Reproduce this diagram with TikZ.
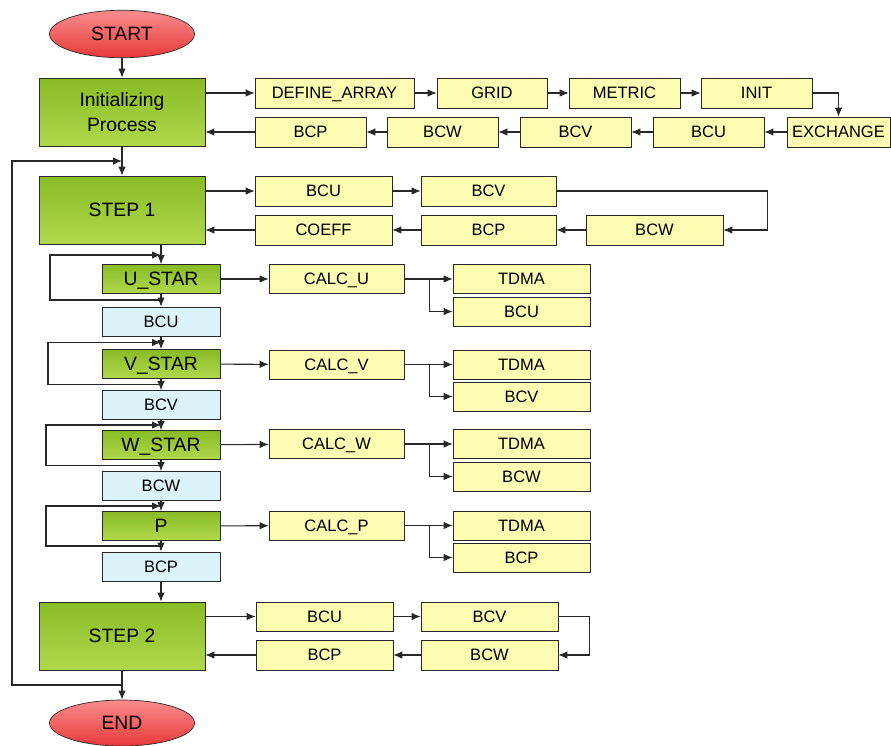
\documentclass[tikz,border=0pt]{standalone}
\usepackage{fontspec}
\setmainfont{Liberation Sans}
\usepackage{xcolor}
\usetikzlibrary{
    arrows.meta,
    positioning,
    shapes.geometric
}
\definecolor{LineGray}{RGB}{40,40,40}
\definecolor{GreenTop}{RGB}{136,188,38}
\definecolor{GreenBot}{RGB}{176,216,76}
\definecolor{SoftYellow}{RGB}{251,251,178}
\definecolor{SoftCyan}{RGB}{218,244,250}
\definecolor{RedTop}{RGB}{250,140,140}
\definecolor{RedBot}{RGB}{232,58,58}
\tikzset{
  mainblock/.style = {draw=LineGray, top color=GreenTop, bottom color=GreenBot,
                      minimum width=3.32cm, minimum height=1.36cm, inner sep=0pt,
                      align=center, font=\fontsize{11}{14}\selectfont},
  starblock/.style = {draw=LineGray, top color=GreenTop, bottom color=GreenBot,
                      minimum width=2.36cm, minimum height=0.58cm, inner sep=0pt,
                      text depth=0pt, font=\fontsize{11}{13}\selectfont},
  bcblock/.style   = {draw=LineGray, fill=SoftCyan, minimum width=2.36cm,
                      minimum height=0.58cm, inner sep=0pt,
                      font=\fontsize{9.4}{11}\selectfont},
  subblock/.style  = {draw=LineGray, fill=SoftYellow, minimum width=2.22cm,
                      minimum height=0.60cm, inner sep=0pt, text depth=0pt,
                      font=\fontsize{9.4}{11}\selectfont},
  term/.style      = {ellipse, draw=LineGray, top color=RedTop, bottom color=RedBot,
                      minimum width=2.9cm, minimum height=0.95cm, inner sep=0pt,
                      font=\fontsize{11}{13}\selectfont},
  arr/.style       = {-{Latex[length=1.8mm,width=1.5mm]}, LineGray, line width=0.6pt}
}

\begin{document}
\begin{tikzpicture}[x=0.02cm, y=-0.02cm]
\useasboundingbox (0,0) rectangle (891,745);
% main column
\node[term] (start) at (122,34) {START};
\node[mainblock] (init) at (122,112) {Initializing\\Process};
\node[mainblock] (step1) at (122,210) {STEP 1};
\node[starblock] (ustar) at (161,279) {U\_STAR};
\node[bcblock] (bcuS) at (161,321.5) {BCU};
\node[starblock] (vstar) at (161,364) {V\_STAR};
\node[bcblock] (bcvS) at (161,405) {BCV};
\node[starblock] (wstar) at (161,445) {W\_STAR};
\node[bcblock] (bcwS) at (161,486) {BCW};
\node[starblock] (pstar) at (161,526) {P};
\node[bcblock] (bcpS) at (161,566.5) {BCP};
\node[mainblock] (step2) at (122,636) {STEP 2};
\node[term, minimum height=0.92cm] (end) at (122,723) {END};

% initializing rows
\node[subblock, minimum width=3.18cm] (da) at (334.5,93) {DEFINE\_ARRAY};
\node[subblock, minimum width=2.2cm] (grid) at (492,93) {GRID};
\node[subblock] (metric) at (624.5,93) {METRIC};
\node[subblock] (initsub) at (756.5,93) {INIT};
\node[subblock, minimum width=2.06cm] (exch) at (838.5,132) {EXCHANGE};
\node[subblock] (ibcu) at (708.5,132) {BCU};
\node[subblock] (ibcv) at (575.5,132) {BCV};
\node[subblock] (ibcw) at (442.5,132) {BCW};
\node[subblock] (ibcp) at (310.5,132) {BCP};

% step 1 rows
\node[subblock, minimum width=2.74cm] (sbcu) at (323.5,191) {BCU};
\node[subblock, minimum width=2.7cm] (sbcv) at (488.5,191) {BCV};
\node[subblock, minimum width=2.74cm] (sbcw) at (654.5,230) {BCW};
\node[subblock, minimum width=2.7cm] (sbcp) at (488.5,230) {BCP};
\node[subblock, minimum width=2.74cm] (scoeff) at (323.5,230) {COEFF};

% predictor rows
\node[subblock, minimum width=2.7cm, minimum height=0.58cm] (calcu) at (336.5,279) {CALC\_U};
\node[subblock, minimum width=2.74cm, minimum height=0.58cm] (utdma) at (521.5,279) {TDMA};
\node[subblock, minimum width=2.74cm, minimum height=0.58cm] (ubc) at (521.5,311.5) {BCU};
\node[subblock, minimum width=2.7cm, minimum height=0.58cm] (calcv) at (336.5,364.5) {CALC\_V};
\node[subblock, minimum width=2.74cm, minimum height=0.58cm] (vtdma) at (521.5,364.5) {TDMA};
\node[subblock, minimum width=2.74cm, minimum height=0.58cm] (vbc) at (521.5,396.5) {BCV};
\node[subblock, minimum width=2.7cm, minimum height=0.58cm] (calcw) at (336.5,444) {CALC\_W};
\node[subblock, minimum width=2.74cm, minimum height=0.58cm] (wtdma) at (521.5,444) {TDMA};
\node[subblock, minimum width=2.74cm, minimum height=0.58cm] (wbc) at (521.5,476.5) {BCW};
\node[subblock, minimum width=2.7cm, minimum height=0.58cm] (calcp) at (336.5,525.5) {CALC\_P};
\node[subblock, minimum width=2.74cm, minimum height=0.58cm] (ptdma) at (521.5,525.5) {TDMA};
\node[subblock, minimum width=2.74cm, minimum height=0.58cm] (pbc) at (521.5,557.5) {BCP};

% step 2 rows
\node[subblock, minimum width=2.74cm, minimum height=0.58cm] (tbcu) at (324.5,616.5) {BCU};
\node[subblock, minimum width=2.74cm, minimum height=0.58cm] (tbcv) at (489.5,616.5) {BCV};
\node[subblock, minimum width=2.74cm] (tbcw) at (489.5,655) {BCW};
\node[subblock, minimum width=2.74cm] (tbcp) at (324.5,655) {BCP};

% loop points
\coordinate (bigin) at (122,161);
\coordinate (bigout) at (122,685);
\coordinate (uin) at (161,255);
\coordinate (uout) at (161,300);
\coordinate (vin) at (161,342.5);
\coordinate (vout) at (161,384.5);
\coordinate (win) at (161,425);
\coordinate (wout) at (161,465.5);
\coordinate (pin) at (161,506);
\coordinate (pout) at (161,546);

% main column arrows
\draw[arr] (start) -- (init);
\draw[arr] (init) -- (step1);
\draw[arr] (step1.south -| ustar) -- (ustar);
\draw[arr] (ustar) -- (bcuS);
\draw[arr] (bcuS) -- (vstar);
\draw[arr] (vstar) -- (bcvS);
\draw[arr] (bcvS) -- (wstar);
\draw[arr] (wstar) -- (bcwS);
\draw[arr] (bcwS) -- (pstar);
\draw[arr] (pstar) -- (bcpS);
\draw[arr] (bcpS) -- (step2.north -| bcpS);
\draw[arr] (step2) -- (end);
\draw[arr] (bigout) -- ++(-110,0) |- (bigin);
\draw[arr] (uout) -- ++(-111,0) |- (uin);
\draw[arr] (vout) -- ++(-113,0) |- (vin);
\draw[arr] (wout) -- ++(-115,0) |- (win);
\draw[arr] (pout) -- ++(-115,0) |- (pin);

% initializing
\draw[arr] (init.east |- da) -- (da);
\draw[arr] (da) -- (grid);
\draw[arr] (grid) -- (metric);
\draw[arr] (metric) -- (initsub);
\draw[arr] (initsub.east) -| (exch.north);
\draw[arr] (exch) -- (ibcu);
\draw[arr] (ibcu) -- (ibcv);
\draw[arr] (ibcv) -- (ibcw);
\draw[arr] (ibcw) -- (ibcp);
\draw[arr] (ibcp) -- (ibcp -| init.east);

% step 1
\draw[arr] (step1.east |- sbcu) -- (sbcu);
\draw[arr] (sbcu) -- (sbcv);
\draw[arr] (sbcv.east) -- ++(211,0) |- (sbcw.east);
\draw[arr] (sbcw) -- (sbcp);
\draw[arr] (sbcp) -- (scoeff);
\draw[arr] (scoeff) -- (scoeff -| step1.east);

% predictors
\draw[arr] (ustar) -- (calcu);
\draw[arr] (calcu) -- (utdma);
\draw[arr] (calcu.east) -- ++(25,0) |- (ubc);
\draw[arr] (vstar) -- (calcv);
\draw[arr] (calcv) -- (vtdma);
\draw[arr] (calcv.east) -- ++(25,0) |- (vbc);
\draw[arr] (wstar) -- (calcw);
\draw[arr] (calcw) -- (wtdma);
\draw[arr] (calcw.east) -- ++(25,0) |- (wbc);
\draw[arr] (pstar) -- (calcp);
\draw[arr] (calcp) -- (ptdma);
\draw[arr] (calcp.east) -- ++(25,0) |- (pbc);

% step 2
\draw[arr] (step2.east |- tbcu) -- (tbcu);
\draw[arr] (tbcu) -- (tbcv);
\draw[arr] (tbcv.east) -- ++(31,0) |- (tbcw.east);
\draw[arr] (tbcw) -- (tbcp);
\draw[arr] (tbcp) -- (tbcp -| step2.east);
\end{tikzpicture}
\end{document}
